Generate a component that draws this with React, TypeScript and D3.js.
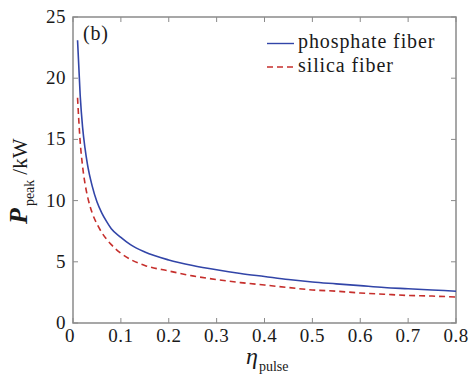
import React, { useEffect, useRef } from "react"
import * as d3 from "d3"

// pulse ratio (x) and peak power in kW for each fiber
const etaValues = [0.0095, 0.015, 0.02, 0.025, 0.03, 0.04, 0.05, 0.06, 0.07, 0.08, 0.1, 0.12, 0.15, 0.2, 0.25, 0.3, 0.35, 0.4, 0.45, 0.5, 0.55, 0.6, 0.65, 0.7, 0.75, 0.8]
const phosphatePeak = [23.1, 18.6, 16.0, 14.3, 13.0, 11.2, 9.9, 9.0, 8.3, 7.7, 7.0, 6.4, 5.8, 5.15, 4.7, 4.35, 4.05, 3.8, 3.55, 3.35, 3.2, 3.05, 2.9, 2.8, 2.7, 2.6]
const silicaPeak = [18.4, 14.8, 12.8, 11.4, 10.4, 9.0, 8.1, 7.4, 6.85, 6.4, 5.7, 5.2, 4.7, 4.25, 3.85, 3.55, 3.3, 3.1, 2.9, 2.7, 2.6, 2.45, 2.35, 2.25, 2.2, 2.12]

const xTicks = [0, 0.1, 0.2, 0.3, 0.4, 0.5, 0.6, 0.7, 0.8]
const yTicks = [0, 5, 10, 15, 20, 25]

const seriesNames = ["phosphate fiber", "silica fiber"]
const seriesColors = ["#3245a8", "#c62f2c"]
const seriesDash = [null, "6,4"]

const FONT = "'Liberation Serif', 'Times New Roman', serif"

export default function App() {
  const ref = useRef<SVGSVGElement>(null)

  useEffect(() => {
    renderChart(ref.current)
  }, [])

  return (
    <svg
      ref={ref}
      width={474}
      height={376}
      style={{ position: "absolute", left: 0, top: 0, background: "white" }}
    />
  )
}

function renderChart(el: SVGSVGElement | null) {
  if (!el) return
  const width = 474
  const height = 376
  const margin = { left: 73, right: 18, top: 17, bottom: 53 }

  const svg = d3.select(el)
  svg.selectAll("*").remove()

  const x = d3.scaleLinear().domain([0, 0.8]).range([margin.left, width - margin.right])
  const y = d3.scaleLinear().domain([0, 25]).range([height - margin.bottom, margin.top])

  const axisColor = "#8a8a8a"
  const tickLen = 5

  // ticks on all four sides, pointing inward
  const ticksG = svg.append("g").attr("stroke", axisColor).attr("stroke-width", 1)
  xTicks.forEach(t => {
    ticksG.append("line").attr("x1", x(t)).attr("x2", x(t)).attr("y1", y(0)).attr("y2", y(0) - tickLen)
    ticksG.append("line").attr("x1", x(t)).attr("x2", x(t)).attr("y1", y(25)).attr("y2", y(25) + tickLen)
  })
  yTicks.forEach(t => {
    ticksG.append("line").attr("x1", x(0)).attr("x2", x(0) + tickLen).attr("y1", y(t)).attr("y2", y(t))
    ticksG.append("line").attr("x1", x(0.8)).attr("x2", x(0.8) - tickLen).attr("y1", y(t)).attr("y2", y(t))
  })

  // frame
  svg.append("rect")
    .attr("x", x(0))
    .attr("y", y(25))
    .attr("width", x(0.8) - x(0))
    .attr("height", y(0) - y(25))
    .attr("fill", "none")
    .attr("stroke", axisColor)
    .attr("stroke-width", 1.5)

  // tick labels
  svg.append("g")
    .selectAll("text")
    .data(xTicks)
    .join("text")
    .attr("x", d => (d === 0 ? x(d) - 3 : x(d)))
    .attr("y", 342)
    .attr("text-anchor", "middle")
    .attr("font-family", FONT)
    .attr("font-size", 19)
    .attr("letter-spacing", 0.5)
    .attr("fill", "#1a1a1a")
    .text(d => (d === 0 ? "0" : d3.format(".1f")(d)))

  svg.append("g")
    .selectAll("text")
    .data(yTicks)
    .join("text")
    .attr("x", 66)
    .attr("y", d => y(d) + 6)
    .attr("text-anchor", "end")
    .attr("font-family", FONT)
    .attr("font-size", 19)
    .attr("letter-spacing", 0.5)
    .attr("fill", "#1a1a1a")
    .text(d => d)

  // curves
  const line = d3.line<[number, number]>()
    .x(d => x(d[0]))
    .y(d => y(d[1]))
    .curve(d3.curveMonotoneX)

  const series = [phosphatePeak, silicaPeak]
  series.forEach((vals, i) => {
    const pts: [number, number][] = etaValues.map((e, j) => [e, vals[j]])
    svg.append("path")
      .attr("d", line(pts))
      .attr("fill", "none")
      .attr("stroke", seriesColors[i])
      .attr("stroke-width", 1.6)
      .attr("stroke-dasharray", seriesDash[i])
  })

  // panel label
  svg.append("text")
    .attr("x", 83)
    .attr("y", 40)
    .attr("font-family", FONT)
    .attr("font-size", 20)
    .attr("letter-spacing", 0.8)
    .attr("fill", "#1a1a1a")
    .text("(b)")

  // legend
  seriesNames.forEach((name, i) => {
    const ly = 43.5 + i * 23.5
    svg.append("line")
      .attr("x1", 267).attr("x2", 294)
      .attr("y1", ly).attr("y2", ly)
      .attr("stroke", seriesColors[i])
      .attr("stroke-width", 1.4)
      .attr("stroke-dasharray", seriesDash[i])
    svg.append("text")
      .attr("x", 298)
      .attr("y", ly + 4.5)
      .attr("font-family", FONT)
      .attr("font-size", 20)
      .attr("letter-spacing", 0.9)
      .attr("fill", "#1a1a1a")
      .text(name)
  })

  // x label
  const xl = svg.append("text")
    .attr("x", 246)
    .attr("y", 364)
    .attr("font-family", FONT)
    .attr("fill", "#1a1a1a")
  xl.append("tspan").attr("font-size", 24).attr("font-style", "italic").text("η")
  xl.append("tspan").attr("font-size", 14).attr("dy", 7).attr("dx", 1).text("pulse")

  // y label
  const yl = svg.append("text")
    .attr("transform", "translate(27,224) rotate(-90)")
    .attr("font-family", FONT)
    .attr("fill", "#1a1a1a")
  yl.append("tspan").attr("font-size", 26).attr("font-style", "italic").attr("font-weight", "bold").text("P")
  yl.append("tspan").attr("font-size", 14).attr("dy", 7).attr("dx", 2).text("peak")
  yl.append("tspan").attr("font-size", 21).attr("dy", -7).attr("dx", 5).text("/kW")
}
